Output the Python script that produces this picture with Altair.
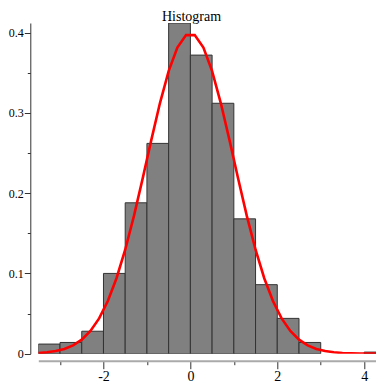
import altair as alt
import pandas as pd

# histogram bins (density scale)
bin_start = [-3.5, -3.0, -2.5, -2.0, -1.5, -1.0, -0.5, 0.0, 0.5, 1.0, 1.5, 2.0, 2.5, 4.0]
bin_end = [-3.0, -2.5, -2.0, -1.5, -1.0, -0.5, 0.0, 0.5, 1.0, 1.5, 2.0, 2.5, 3.0, 4.5]
density = [0.012, 0.014, 0.028, 0.100, 0.188, 0.262, 0.412, 0.372, 0.312, 0.168, 0.086, 0.044, 0.014, 0.002]

# red density curve
curve_x = [-3.5, -3.3, -3.1, -2.9, -2.7, -2.5, -2.3, -2.1, -1.9, -1.7, -1.5, -1.3, -1.1, -0.9, -0.7,
           -0.5, -0.3, -0.1, 0.1, 0.3, 0.5, 0.7, 0.9, 1.1, 1.3, 1.5, 1.7, 1.9, 2.1, 2.3, 2.5, 2.7,
           2.9, 3.1, 3.3, 3.5, 3.7, 3.9, 4.1, 4.3, 4.5]
curve_y = [0.00087, 0.00172, 0.00327, 0.00595, 0.01042, 0.01753, 0.02833, 0.04398, 0.06562, 0.09405,
           0.12952, 0.17137, 0.21785, 0.26609, 0.31225, 0.35207, 0.38139, 0.39695, 0.39695, 0.38139,
           0.35207, 0.31225, 0.26609, 0.21785, 0.17137, 0.12952, 0.09405, 0.06562, 0.04398, 0.02833,
           0.01753, 0.01042, 0.00595, 0.00327, 0.00172, 0.00087, 0.00042, 0.00020, 0.00009, 0.00004,
           0.00002]

x_ticks = [-3, -2, -1, 0, 1, 2, 3, 4]
y_ticks = [0, 0.05, 0.1, 0.15, 0.2, 0.25, 0.3, 0.35, 0.4]

title_text = ["Histogram"]

bars_df = pd.DataFrame({"start": bin_start, "end": bin_end, "density": density})
curve_df = pd.DataFrame({"x": curve_x, "y": curve_y})
title_df = pd.DataFrame({"t": title_text})

SERIF = "'Liberation Serif', 'Times New Roman', serif"

x_scale = alt.Scale(domain=[-3.5, 4.272], nice=False, zero=False)
y_scale = alt.Scale(domain=[0, 0.412], nice=False, zero=True)

x_axis = alt.Axis(
    title=None,
    values=x_ticks,
    offset=7,
    grid=False,
    domainColor="#aaaaaa",
    domainWidth=2,
    tickColor="#333333",
    tickWidth=1,
    tickSize={"condition": {"test": "datum.value % 2 == 0", "value": 8}, "value": 4},
    labelExpr="datum.value % 2 == 0 ? '' + datum.value : ''",
    labelFont=SERIF,
    labelFontSize=14,
    labelColor="black",
    labelPadding=1,
)

y_axis = alt.Axis(
    title=None,
    values=y_ticks,
    offset=8,
    grid=False,
    domainColor="#333333",
    domainWidth=1,
    tickColor="#333333",
    tickWidth=1,
    tickSize={"condition": {"test": "abs(datum.value*10 - round(datum.value*10)) < 0.001", "value": 6}, "value": 3},
    labelExpr="abs(datum.value*10 - round(datum.value*10)) < 0.001 ? format(datum.value, '.1~f') : ''",
    labelFont=SERIF,
    labelFontSize=12,
    labelColor="black",
    labelPadding=1,
)

bars = alt.Chart(bars_df).mark_rect(
    fill="#808080", stroke="#333333", strokeWidth=1, clip=True
).encode(
    x=alt.X("start:Q", scale=x_scale, axis=x_axis),
    x2="end:Q",
    y=alt.Y("density:Q", scale=y_scale, axis=y_axis),
    y2=alt.datum(0),
)

curve = alt.Chart(curve_df).mark_line(
    color="#ff0000", strokeWidth=2.6, clip=True
).encode(
    x=alt.X("x:Q", scale=x_scale),
    y=alt.Y("y:Q", scale=y_scale),
)

title = alt.Chart(title_df).mark_text(
    font=SERIF, fontSize=14, color="black", align="center", baseline="alphabetic"
).encode(
    text="t:N",
    x=alt.value(153.2),
    y=alt.value(-1.7),
)

chart = alt.layer(bars, curve, title).properties(
    width=337.7,
    height=330.7,
    autosize=alt.AutoSizeParams(type="none"),
    padding={"left": 30.3, "top": 15, "right": 0, "bottom": 30.3},
).configure_view(stroke=None)

chart.save("out.html", embed_options={"renderer": "svg", "actions": False})
